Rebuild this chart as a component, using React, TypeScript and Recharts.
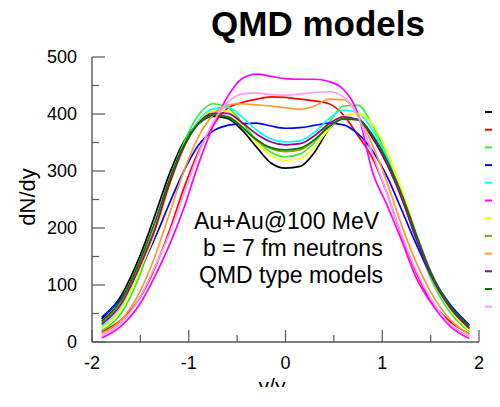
import React from 'react';
import { LineChart, Line, XAxis, YAxis, Legend } from 'recharts';

const X_VALUES = [-1.9, -1.7, -1.5, -1.35, -1.2, -1.05, -0.9, -0.75, -0.6, -0.45, -0.3, -0.15, 0, 0.15, 0.3, 0.45, 0.6, 0.75, 0.9, 1.05, 1.2, 1.35, 1.5, 1.7, 1.9];

const BLACK = [40, 81, 153, 222, 295, 352, 383, 396, 392, 372, 342, 314, 305, 308, 333, 374, 392, 390, 358, 312, 255, 182, 118, 60, 29];
const RED = [18, 39, 79, 130, 195, 270, 334, 380, 410, 420, 426, 430, 429, 426, 423, 418, 398, 362, 322, 260, 186, 122, 73, 36, 14];
const GREEN = [20, 50, 120, 195, 280, 350, 398, 418, 412, 385, 355, 333, 325, 330, 350, 385, 414, 415, 380, 325, 255, 180, 112, 52, 18];
const BLUE = [43, 77, 128, 182, 243, 300, 345, 370, 380, 383, 384, 379, 375, 376, 380, 384, 381, 365, 335, 290, 232, 172, 118, 66, 30];
const CYAN = [27, 60, 130, 195, 275, 343, 388, 409, 412, 395, 372, 356, 351, 353, 368, 392, 407, 402, 372, 322, 258, 188, 122, 60, 22];
const MAGENTA = [7, 28, 68, 115, 170, 235, 312, 378, 430, 462, 470, 466, 462, 461, 461, 457, 443, 400, 298, 240, 178, 113, 70, 28, 6];
const YELLOW = [24, 58, 128, 190, 272, 340, 385, 405, 405, 380, 350, 327, 319, 322, 342, 374, 396, 401, 382, 335, 268, 190, 120, 58, 20];
const OLIVE = [33, 70, 140, 200, 280, 343, 382, 398, 396, 378, 354, 339, 334, 337, 354, 378, 392, 390, 362, 315, 257, 185, 120, 62, 25];
const ORANGE = [15, 38, 90, 150, 225, 300, 360, 398, 416, 418, 416, 414, 411, 408, 414, 426, 425, 398, 345, 280, 205, 140, 88, 40, 13];
const PURPLE = [31, 66, 135, 197, 277, 342, 384, 401, 401, 385, 365, 351, 346, 348, 362, 383, 395, 390, 360, 312, 252, 182, 118, 60, 24];
const DARKGREEN = [36, 74, 145, 210, 285, 345, 383, 398, 395, 377, 355, 341, 337, 340, 355, 378, 391, 390, 363, 318, 260, 190, 124, 64, 28];
const PINK = [11, 33, 80, 132, 190, 260, 330, 385, 420, 435, 437, 434, 433, 435, 438, 439, 430, 395, 330, 260, 188, 125, 76, 32, 9];

const X_TICKS = [-2, -1.5, -1, -0.5, 0, 0.5, 1, 1.5, 2];
const Y_TICKS = [0, 50, 100, 150, 200, 250, 300, 350, 400, 450, 500];

const SERIES = [
  { key: 'm01', name: 'QMD 01', color: '#000000', values: BLACK },
  { key: 'm02', name: 'QMD 02', color: '#ff0000', values: RED },
  { key: 'm03', name: 'QMD 03', color: '#33ee33', values: GREEN },
  { key: 'm04', name: 'QMD 04', color: '#0000ff', values: BLUE },
  { key: 'm05', name: 'QMD 05', color: '#00ffff', values: CYAN },
  { key: 'm06', name: 'QMD 06', color: '#ff00ff', values: MAGENTA },
  { key: 'm07', name: 'QMD 07', color: '#ffff00', values: YELLOW },
  { key: 'm08', name: 'QMD 08', color: '#9a9a00', values: OLIVE },
  { key: 'm09', name: 'QMD 09', color: '#ff9933', values: ORANGE },
  { key: 'm10', name: 'QMD 10', color: '#990099', values: PURPLE },
  { key: 'm11', name: 'QMD 11', color: '#007700', values: DARKGREEN },
  { key: 'm12', name: 'QMD 12', color: '#ff99ff', values: PINK },
];

const data = X_VALUES.map((x, i) => {
  const row: Record<string, number> = { x };
  SERIES.forEach((s) => {
    row[s.key] = s.values[i];
  });
  return row;
});

const FONT = '"Liberation Sans", Arial, Helvetica, sans-serif';
const AXIS = '#555';

function BottomTick(props: any) {
  const { x, y, payload } = props;
  const v = payload.value;
  const major = Number.isInteger(v);
  return (
    <g>
      <line x1={x} x2={x} y1={y} y2={y - (major ? 12 : 7)} stroke={AXIS} strokeWidth={1.2} />
      {major && (
        <text x={x} y={y + 21} textAnchor="middle" dominantBaseline="central" fontSize={18} fontFamily={FONT} fill="#000">
          {String(v)}
        </text>
      )}
    </g>
  );
}

function TopTick(props: any) {
  const { x, y, payload } = props;
  const major = Number.isInteger(payload.value);
  return <line x1={x} x2={x} y1={y} y2={y + (major ? 12 : 7)} stroke={AXIS} strokeWidth={1.2} />;
}

function LeftTick(props: any) {
  const { x, y, payload } = props;
  const v = payload.value;
  const major = v % 100 === 0;
  return (
    <g>
      <line x1={x} x2={x + (major ? 13 : 7)} y1={y} y2={y} stroke={AXIS} strokeWidth={1.2} />
      {major && (
        <text x={x - 15} y={y} textAnchor="end" dominantBaseline="central" fontSize={18} fontFamily={FONT} fill="#000">
          {String(v)}
        </text>
      )}
    </g>
  );
}

function RightTick(props: any) {
  const { x, y, payload } = props;
  const major = payload.value % 100 === 0;
  return <line x1={x} x2={x - (major ? 13 : 7)} y1={y} y2={y} stroke={AXIS} strokeWidth={1.2} />;
}

function LegendLines(props: any) {
  const payload = props.payload || [];
  return (
    <svg width={30} height={220} style={{ display: 'block' }}>
      {payload.map((p: any, i: number) => (
        <line key={i} x1={0} x2={30} y1={9 + i * 17.7} y2={9 + i * 17.7} stroke={p.color} strokeWidth={2} />
      ))}
    </svg>
  );
}

export default function App() {
  return (
    <div style={{ width: 500, height: 387, overflow: 'hidden', position: 'relative', margin: '-8px 0 0 -8px' }}>
      <LineChart width={500} height={407} data={data} margin={{ top: 57, right: 21, left: 0, bottom: 0 }}>
        <XAxis
          dataKey="x"
          type="number"
          domain={[-2, 2]}
          ticks={X_TICKS}
          interval={0}
          tickSize={0}
          tickMargin={0}
          tickLine={false}
          tick={<BottomTick />}
          axisLine={{ stroke: AXIS, strokeWidth: 1.4 }}
          height={65}
        />
        <XAxis
          xAxisId="top"
          orientation="top"
          dataKey="x"
          type="number"
          domain={[-2, 2]}
          ticks={X_TICKS}
          interval={0}
          tickSize={0}
          tickMargin={0}
          tickLine={false}
          tick={<TopTick />}
          axisLine={{ stroke: AXIS, strokeWidth: 1.4 }}
          height={0}
        />
        <YAxis
          type="number"
          domain={[0, 500]}
          ticks={Y_TICKS}
          interval={0}
          tickSize={0}
          tickMargin={0}
          tickLine={false}
          tick={<LeftTick />}
          axisLine={{ stroke: AXIS, strokeWidth: 1.4 }}
          width={92}
        />
        <YAxis
          yAxisId="right"
          orientation="right"
          type="number"
          domain={[0, 500]}
          ticks={Y_TICKS}
          interval={0}
          tickSize={0}
          tickMargin={0}
          tickLine={false}
          tick={<RightTick />}
          axisLine={{ stroke: AXIS, strokeWidth: 1.4 }}
          width={0}
        />
        <Legend
          layout="vertical"
          align="center"
          verticalAlign="middle"
          content={<LegendLines />}
          wrapperStyle={{ left: 485, top: 103, width: 30 }}
        />
        {SERIES.map((s) => (
          <Line
            key={s.key}
            dataKey={s.key}
            name={s.name}
            type="monotone"
            stroke={s.color}
            strokeWidth={1.7}
            dot={false}
            isAnimationActive={false}
          />
        ))}
      </LineChart>
      <svg width={500} height={407} style={{ position: 'absolute', left: 0, top: 0, pointerEvents: 'none' }}>
        <text x={318} y={36} textAnchor="middle" fontSize={35} fontWeight="bold" fontFamily={FONT} fill="#000">
          QMD models
        </text>
        <text x={27} y={197} textAnchor="middle" dominantBaseline="central" fontSize={22} fontFamily={FONT} fill="#000" transform="rotate(-90 27 197)">
          dN/dy
        </text>
        <text x={194} y={229} fontSize={23} fontFamily={FONT} fill="#000">Au+Au@100 MeV</text>
        <text x={203} y={256} fontSize={23} fontFamily={FONT} fill="#000">b = 7 fm neutrons</text>
        <text x={199} y={283} fontSize={23} fontFamily={FONT} fill="#000">QMD type models</text>
        <text x={272} y={393} textAnchor="middle" fontSize={21} fontFamily={FONT} fill="#000">y/y</text>
      </svg>
    </div>
  );
}
